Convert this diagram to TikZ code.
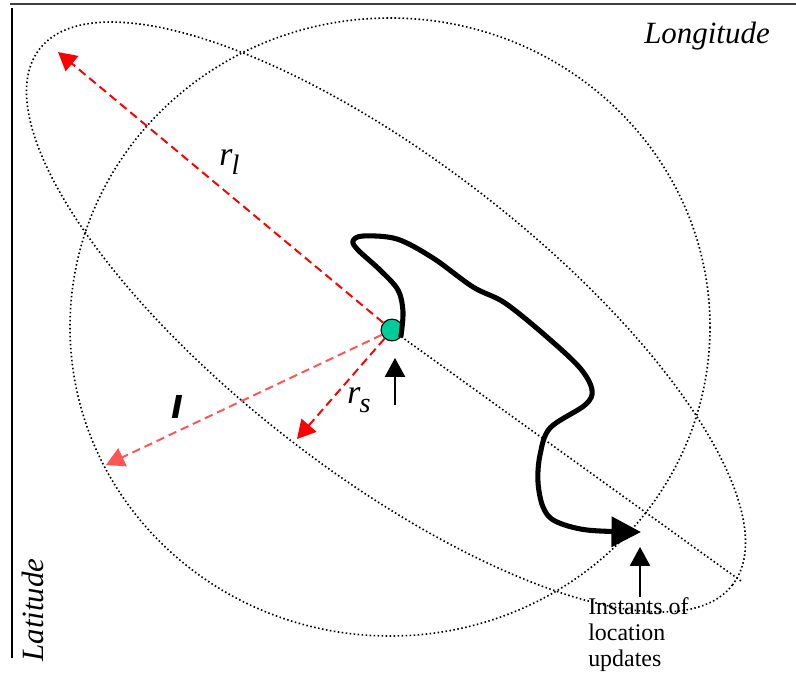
\documentclass[tikz,border=0pt]{standalone}
\usepackage{fontspec}
\setmainfont{Liberation Serif}
\newfontfamily\sansbold{Liberation Sans}
\usetikzlibrary{arrows.meta}
\definecolor{locred}{RGB}{255,0,0}
\definecolor{lightred}{RGB}{255,85,85}
\definecolor{dotgreen}{RGB}{0,204,153}
\newcommand{\rsub}[1]{r\kern-0.5pt\raisebox{-6.5pt}{\fontsize{20}{20}\selectfont #1}}

\begin{document}
\begin{tikzpicture}[x=0.025cm, y=-0.025cm,
    zone/.style={line width=1.15pt, dash pattern=on 1.1pt off 1.75pt},
    radius line/.style={line width=1.4pt, dash pattern=on 6pt off 3.5pt, -{Triangle[length=13pt, width=14pt]}},
    uparrow/.style={line width=1pt, -{Triangle[length=13.5pt, width=14.5pt]}},
    path line/.style={line width=3.6pt, line join=round, -{Triangle[length=21pt, width=21pt]}},
    lbl/.style={inner sep=0pt, anchor=base west, font=\fontsize{24}{28}\selectfont\itshape}]
    \useasboundingbox (0,0) rectangle (796,679);
    % Axes
    \draw[line width=1.4pt, black!75] (10,4) -- (796,4);
    \draw[line width=1.1pt] (12,8) -- (12,658);
    \node[anchor=base, inner sep=0pt, font=\fontsize{22}{26}\selectfont\itshape] (lon) at (707,43) {Longitude};
    \node[anchor=base, rotate=90, inner sep=0pt, font=\fontsize{22}{26}\selectfont\itshape] (lat) at (43,610) {Latitude};
    % Location areas
    \draw[zone] (390,327) ellipse [x radius=320, y radius=309];
    \draw[zone, rotate around={-37.7:(386,317)}] (386,317) ellipse [x radius=438, y radius=156];
    % Last reported position
    \node[circle, draw, fill=dotgreen, line width=0.8pt, minimum size=15.5pt, inner sep=0pt] (mob) at (392,330) {};
    \coordinate (axEnd) at (741,581);
    \draw[zone] (mob) -- (axEnd);
    % Radii
    \coordinate (lTip) at (58,52);
    \coordinate (sTip) at (297,439);
    \coordinate (wTip) at (106,465);
    \draw[radius line, locred] (mob) -- (lTip);
    \draw[radius line, locred] (mob) -- (sTip);
    \draw[radius line, lightred] (mob) -- (wTip);
    \node[lbl] (rl) at (219,165) {\rsub{l}};
    \node[lbl] (rs) at (347,403) {\rsub{s}};
    \node[inner sep=0pt, font={\fontsize{31}{31}\sansbold\bfseries\itshape}] (w) at (178,407) {ı};
    % Movement path
    \coordinate (trajEnd) at (641,532);
    \draw[path line] plot[smooth, tension=0.55] coordinates {(mob.-40) (403,312) (398,290) (380,270) (358,250) (353,241) (363,236) (397,239) (433,258) (473,287) (505,303) (547,337) (580,368) (592,390) (585,405) (550,428) (540,455) (538,482) (543,507) (555,521) (587,530) (trajEnd)};
    % Updates
    \node[anchor=north west, inner sep=0pt, align=left, font=\fontsize{17}{18.5}\selectfont] (upd) at (588,597) {Instants of\\location\\updates};
    \coordinate (t1) at (395,358);
    \coordinate (b1) at (395,405);
    \coordinate (t2) at (640,547);
    \draw[uparrow] (b1) -- (t1);
    \draw[uparrow] (upd.north -| t2) -- (t2);
\end{tikzpicture}
\end{document}
